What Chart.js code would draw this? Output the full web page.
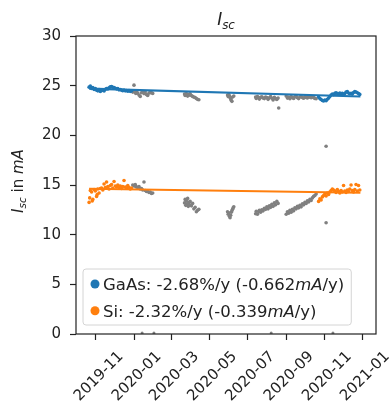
<!DOCTYPE html>
<html>
<head>
<meta charset="utf-8">
<script src="https://cdn.jsdelivr.net/npm/chart.js@4/dist/chart.umd.min.js"></script>
<style>
  html, body { margin: 0; padding: 0; background: #fff; }
  #wrap { width: 389px; height: 412px; }
</style>
</head>
<body>
<div id="wrap"><canvas id="c"></canvas></div>
<script>
// days are counted from 2019-10-01
var START = Date.UTC(2019, 9, 1);

var tickLabels = ['2019-11', '2020-01', '2020-03', '2020-05', '2020-07', '2020-09', '2020-11', '2021-01'];
var legendLabels = ['GaAs: -2.68%/y (-0.662mA/y)', 'Si: -2.32%/y (-0.339mA/y)'];

// GaAs, points used for the fit (blue)
var gaasDays = [20, 22, 24, 26, 28, 30, 32, 34, 36, 38, 40, 42, 44, 46, 48, 50, 52, 54, 56, 58, 60, 62, 64, 66, 68, 70, 72, 74, 76, 78, 80, 82, 84, 86, 88,
  388, 390, 392, 394, 396, 398, 400, 402, 404, 406, 408, 410, 412, 414, 416, 418, 420, 422, 424, 426, 428, 430, 432, 434, 436, 438, 440, 442, 444, 446, 448, 450, 452, 454];
var gaasVals = [24.85, 24.95, 24.72, 24.80, 24.62, 24.70, 24.55, 24.48, 24.60, 24.42, 24.52, 24.58, 24.47, 24.63, 24.70, 24.66, 24.78, 24.88, 24.92, 24.84, 24.80, 24.74, 24.68, 24.72, 24.58, 24.62, 24.55, 24.50, 24.57, 24.48, 24.52, 24.45, 24.50, 24.43, 24.47,
  23.85, 23.70, 23.60, 23.50, 23.45, 23.55, 23.48, 23.62, 23.75, 23.90, 24.05, 24.15, 24.10, 24.22, 24.28, 24.20, 24.15, 24.25, 24.18, 24.22, 24.12, 24.20, 24.35, 24.40, 24.25, 24.18, 24.22, 24.15, 24.30, 24.42, 24.35, 24.28, 24.20, 24.12];

// GaAs, points left out of the fit (grey)
var gaasOutDays = [90, 92, 94, 95, 96, 98, 100, 102, 104, 106, 108, 110, 112, 114, 116, 118, 120, 122,
  173, 174, 176, 177, 178, 180, 181, 182, 184, 186, 188, 190, 192, 194, 196,
  242, 243, 244, 245, 246, 247, 248, 249, 250, 252,
  287, 288, 290, 292, 293, 295, 297, 299, 301, 303, 305, 307, 309, 311, 313, 315, 317, 319, 321, 323, 324,
  336, 338, 340, 342, 344, 346, 348, 350, 352, 354, 356, 358, 360, 362, 364, 366, 368, 370, 372, 374, 376, 378, 380, 382, 384,
  400];
var gaasOutVals = [24.35, 25.05, 24.30, 24.22, 24.38, 24.25, 24.05, 23.92, 24.28, 24.33, 24.20, 24.35, 24.10, 24.02, 24.25, 24.30, 24.28, 24.22,
  24.15, 24.02, 24.20, 24.08, 23.95, 24.12, 24.05, 24.18, 24.00, 23.92, 23.85, 23.80, 23.70, 23.62, 23.58,
  24.05, 23.90, 24.10, 23.95, 23.80, 23.65, 23.50, 23.42, 23.85, 23.95,
  23.85, 23.72, 23.90, 23.78, 23.65, 23.82, 23.88, 23.75, 23.70, 23.85, 23.80, 23.62, 23.78, 23.90, 23.74, 23.55, 23.82, 23.70, 23.60, 23.75, 22.75,
  23.95, 23.75, 23.85, 23.68, 23.90, 23.80, 23.72, 23.88, 23.95, 23.78, 23.70, 23.85, 23.92, 23.80, 23.74, 23.88, 23.82, 23.76, 23.90, 23.84, 23.78, 23.86, 23.80, 23.72, 23.68,
  18.9];

// Si, points used for the fit (orange)
var siDays = [20, 21, 22, 24, 25, 26, 28, 30, 32, 33, 34, 36, 38, 40, 42, 44, 46, 48, 50, 52, 54, 56, 58, 60, 62, 64, 66, 68, 70, 72, 74, 76, 78, 80, 82, 84, 86, 88,
  388, 390, 392, 394, 396, 398, 400, 402, 404, 406, 408, 410, 412, 414, 416, 418, 420, 422, 424, 426, 428, 430, 432, 434, 436, 438, 440, 442, 444, 446, 448, 450, 452, 454];
var siVals = [13.25, 13.70, 14.45, 14.30, 13.40, 13.55, 14.55, 14.40, 13.85, 14.05, 14.60, 14.20, 14.65, 14.70, 14.50, 15.10, 14.75, 15.30, 14.85, 14.60, 14.95, 15.05, 14.70, 15.35, 14.90, 14.80, 15.00, 14.75, 14.90, 14.65, 14.85, 15.45, 14.80, 14.70, 14.95, 14.75, 14.60, 14.70,
  13.35, 13.60, 13.50, 13.80, 13.95, 14.10, 13.90, 14.20, 14.05, 14.30, 14.45, 14.60, 14.50, 14.40, 14.25, 14.55, 14.35, 14.20, 14.45, 14.30, 14.95, 14.40, 14.25, 14.50, 14.35, 14.60, 15.00, 14.45, 14.30, 14.55, 15.05, 14.40, 14.95, 14.50];

// Si, points left out of the fit (grey)
var siOutDays = [90, 92, 94, 95, 96, 98, 100, 102, 104, 106, 108, 110, 112, 114, 116, 118, 120, 122,
  173, 174, 175, 176, 177, 178, 179, 180, 181, 182, 184, 186, 188, 190, 192, 194, 196,
  242, 243, 244, 245, 246, 247, 248, 249, 250, 251, 252,
  287, 288, 290, 292, 293, 295, 297, 299, 301, 303, 305, 307, 309, 311, 313, 315, 317, 319, 321, 323,
  336, 338, 340, 342, 344, 346, 348, 350, 352, 354, 356, 358, 360, 362, 364, 366, 368, 370, 372, 374, 376, 378, 380, 382, 384,
  400];
var siOutVals = [15.00, 14.90, 15.05, 14.85, 14.80, 14.75, 14.85, 14.60, 14.65, 14.50, 15.30, 14.45, 14.35, 14.40, 14.25, 14.30, 14.15, 14.20,
  13.20, 13.55, 12.95, 13.40, 13.10, 13.65, 12.85, 13.25, 13.00, 13.35, 12.90, 13.15, 12.60, 12.75, 12.30, 12.45, 12.55,
  12.30, 12.05, 12.20, 11.85, 11.70, 11.95, 12.25, 12.40, 12.55, 12.70, 12.80,
  12.10, 12.35, 12.05, 12.30, 12.45, 12.25, 12.50, 12.40, 12.65, 12.55, 12.80, 12.60, 12.90, 12.75, 13.05, 12.85, 13.20, 13.00, 13.35, 13.15,
  12.05, 12.30, 12.15, 12.45, 12.25, 12.55, 12.40, 12.70, 12.60, 12.85, 12.70, 12.95, 12.80, 13.10, 13.00, 13.25, 13.15, 13.40, 13.30, 13.55, 13.45, 13.70, 13.85, 13.95, 14.10,
  11.2];

// failed readings near zero
var zeroDays = [105, 124, 312, 411];
var zeroVals = [0.1, 0.1, 0.1, 0.1];

// linear fits
var trendDays = [20, 455];
var gaasTrend = [24.70, 23.91];
var siTrend = [14.62, 14.22];

var BLUE = '#1f77b4', ORANGE = '#ff7f0e', GREY = '#808080', INK = '#222';
var FONT = '"DejaVu Sans", sans-serif';

function pts(days, vals) {
  return days.map(function (d, i) { return { x: d, y: vals[i] }; });
}
function monthDay(label) {
  var p = label.split('-');
  return (Date.UTC(+p[0], +p[1] - 1, 1) - START) / 86400000;
}
var tickDays = tickLabels.map(monthDay);

function partFont(p, size) {
  return (p.it ? 'italic ' : '') + (p.sub ? size * 0.7 : size) + 'px ' + FONT;
}
function richWidth(ctx, parts, size) {
  var w = 0;
  parts.forEach(function (p) { ctx.font = partFont(p, size); w += ctx.measureText(p.t).width; });
  return w;
}
function drawRich(ctx, parts, x, y, size) {
  parts.forEach(function (p) {
    ctx.font = partFont(p, size);
    ctx.fillText(p.t, x, y + (p.sub ? size * 0.22 : 0));
    x += ctx.measureText(p.t).width;
  });
}
function legendParts(label) {
  var s = label.split('mA');
  return [{ t: s[0] }, { t: 'mA', it: true }, { t: s[1] }];
}

var decor = {
  id: 'decor',
  afterDatasetsDraw: function (chart) {
    var ctx = chart.ctx, a = chart.chartArea;
    ctx.save();
    // frame
    ctx.strokeStyle = INK;
    ctx.lineWidth = 1.2;
    ctx.strokeRect(a.left, a.top, a.right - a.left, a.bottom - a.top);

    ctx.fillStyle = INK;
    ctx.textBaseline = 'alphabetic';
    // title
    var title = [{ t: 'I', it: true }, { t: 'sc', it: true, sub: true }];
    var tw = richWidth(ctx, title, 17);
    drawRich(ctx, title, (a.left + a.right) / 2 - tw / 2, 25, 17);

    // y axis title
    var ylab = [{ t: 'I', it: true }, { t: 'sc', it: true, sub: true }, { t: ' in ' }, { t: 'mA', it: true }];
    var yw = richWidth(ctx, ylab, 15);
    ctx.save();
    ctx.translate(23, (a.top + a.bottom) / 2 - 4);
    ctx.rotate(-Math.PI / 2);
    drawRich(ctx, ylab, -yw / 2, 0, 15);
    ctx.restore();

    // legend
    var size = 16.5;
    var w = 0;
    legendLabels.forEach(function (l) { w = Math.max(w, richWidth(ctx, legendParts(l), size)); });
    var bx = a.left + 7, bw = w + 27, bh = 56, by = a.bottom - 9 - bh;
    ctx.beginPath();
    ctx.roundRect(bx, by, bw, bh, 3);
    ctx.fillStyle = 'rgba(255,255,255,0.8)';
    ctx.fill();
    ctx.strokeStyle = '#d4d4d4';
    ctx.lineWidth = 1;
    ctx.stroke();
    var colors = [BLUE, ORANGE];
    legendLabels.forEach(function (l, i) {
      var cy = by + 15 + i * 26.7;
      ctx.beginPath();
      ctx.arc(bx + 12, cy, 4.5, 0, Math.PI * 2);
      ctx.fillStyle = colors[i];
      ctx.fill();
      ctx.fillStyle = INK;
      drawRich(ctx, legendParts(l), bx + 20, cy + 6, size);
    });
    ctx.restore();
  }
};

new Chart(document.getElementById('c'), {
  type: 'scatter',
  data: {
    datasets: [
      { type: 'line', data: pts(trendDays, gaasTrend), borderColor: BLUE, borderWidth: 2.1, pointRadius: 0, fill: false },
      { type: 'line', data: pts(trendDays, siTrend), borderColor: ORANGE, borderWidth: 2.1, pointRadius: 0, fill: false },
      { data: pts(gaasDays, gaasVals), backgroundColor: BLUE, pointRadius: 1.8, borderWidth: 0 },
      { data: pts(siDays, siVals), backgroundColor: ORANGE, pointRadius: 1.8, borderWidth: 0 },
      { data: pts(gaasOutDays, gaasOutVals), backgroundColor: GREY, pointRadius: 1.8, borderWidth: 0 },
      { data: pts(siOutDays, siOutVals), backgroundColor: GREY, pointRadius: 1.8, borderWidth: 0 },
      { data: pts(zeroDays, zeroVals), backgroundColor: GREY, pointRadius: 1.5, borderWidth: 0 }
    ]
  },
  options: {
    responsive: true,
    maintainAspectRatio: false,
    animation: false,
    layout: { padding: { top: 36, right: 13, left: 0, bottom: 0 } },
    plugins: { legend: { display: false }, tooltip: { enabled: false } },
    scales: {
      x: {
        type: 'linear',
        min: -1,
        max: 480,
        afterBuildTicks: function (s) { s.ticks = tickDays.map(function (d) { return { value: d }; }); },
        afterFit: function (s) { s.height = 78; s.paddingLeft = 0; s.paddingRight = 0; },
        grid: { drawOnChartArea: false, drawTicks: true, tickLength: 6, tickColor: INK, tickWidth: 1.2 },
        border: { display: false },
        ticks: {
          autoSkip: false,
          minRotation: 45,
          maxRotation: 45,
          labelOffset: 25,
          padding: 8,
          color: INK,
          font: { family: FONT, size: 15 },
          callback: function (v) { var i = tickDays.indexOf(v); return i < 0 ? '' : tickLabels[i]; }
        }
      },
      y: {
        min: 0,
        max: 30,
        afterFit: function (s) { s.width = 76; },
        grid: { drawOnChartArea: false, drawTicks: true, tickLength: 6, tickColor: INK, tickWidth: 1.2 },
        border: { display: false },
        ticks: { stepSize: 5, padding: 9, color: INK, font: { family: FONT, size: 15 } }
      }
    }
  },
  plugins: [decor]
});
</script>
</body>
</html>
